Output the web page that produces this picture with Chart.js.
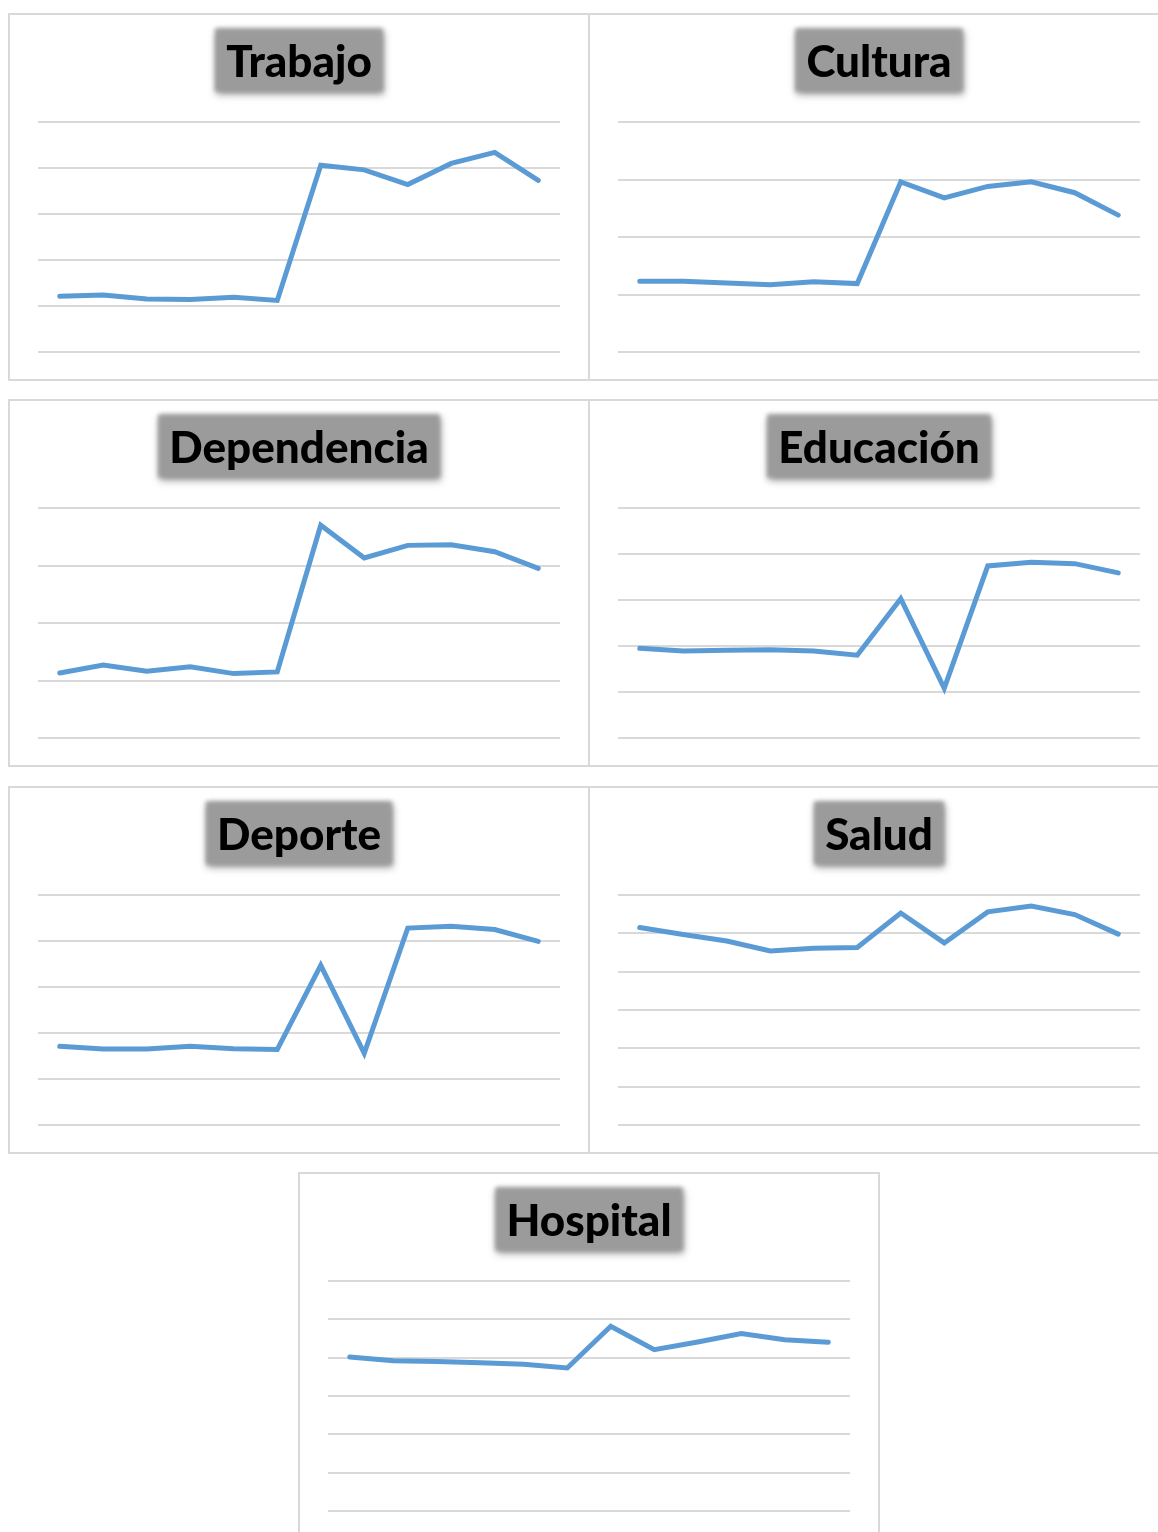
<!DOCTYPE html>
<html>
<head>
<meta charset="utf-8">
<script src="https://cdn.jsdelivr.net/npm/chart.js@4.4.0/dist/chart.umd.min.js"></script>
<style>
  html, body { margin: 0; padding: 0; background: #fff; }
  body { width: 1158px; height: 1532px; position: relative; overflow: hidden; }
  .panel {
    position: absolute;
    width: 582px;
    height: 368px;
    box-sizing: border-box;
    border: 2px solid #d9d9d9;
    background: #fff;
  }
  .panel canvas { display: block; }
</style>
</head>
<body>
<div class="panel" style="left:8px;top:13px"><canvas id="trabajo" width="578" height="364"></canvas></div>
<div class="panel" style="left:588px;top:13px"><canvas id="cultura" width="578" height="364"></canvas></div>
<div class="panel" style="left:8px;top:399px"><canvas id="dependencia" width="578" height="364"></canvas></div>
<div class="panel" style="left:588px;top:399px"><canvas id="educacion" width="578" height="364"></canvas></div>
<div class="panel" style="left:8px;top:786px"><canvas id="deporte" width="578" height="364"></canvas></div>
<div class="panel" style="left:588px;top:786px"><canvas id="salud" width="578" height="364"></canvas></div>
<div class="panel" style="left:298px;top:1172px"><canvas id="hospital" width="578" height="364"></canvas></div>

<script>
// twelve periods, axis labels are hidden
const periods = ['1', '2', '3', '4', '5', '6', '7', '8', '9', '10', '11', '12'];

const trabajo = [12.1, 12.4, 11.5, 11.4, 11.9, 11.2, 40.6, 39.6, 36.4, 41.0, 43.4, 37.3];
const cultura = [12.3, 12.3, 12.0, 11.7, 12.2, 11.9, 29.6, 26.8, 28.8, 29.6, 27.7, 23.8];
const dependencia = [11.3, 12.7, 11.6, 12.4, 11.2, 11.5, 37.0, 31.3, 33.5, 33.6, 32.4, 29.5];
const educacion = [19.5, 18.9, 19.1, 19.2, 18.9, 18.0, 30.3, 10.8, 37.4, 38.2, 37.9, 35.9];
const deporte = [17.1, 16.5, 16.5, 17.1, 16.6, 16.4, 34.7, 15.6, 42.8, 43.2, 42.5, 39.9];
const salud = [51.5, 49.7, 48.0, 45.4, 46.1, 46.3, 55.3, 47.5, 55.6, 57.1, 54.9, 49.8];
const hospital = [40.2, 39.2, 39.0, 38.7, 38.3, 37.3, 48.2, 42.1, 44.1, 46.3, 44.7, 44.0];

// gray soft-edged box behind each title
const titleBox = {
  id: 'titleBox',
  beforeDraw(chart) {
    const t = chart.titleBlock;
    if (!t) return;
    const opts = chart.options.plugins.title;
    const font = Chart.helpers.toFont(opts.font);
    const pad = Chart.helpers.toPadding(opts.padding);
    const ctx = chart.ctx;
    ctx.save();
    ctx.font = font.string;
    const w = ctx.measureText(opts.text).width;
    const cx = (t.left + t.right) / 2;
    const mid = t.top + pad.top + font.lineHeight / 2;
    ctx.filter = 'blur(2px)';
    ctx.shadowColor = 'rgba(0,0,0,0.4)';
    ctx.shadowBlur = 6;
    ctx.shadowOffsetX = 1;
    ctx.shadowOffsetY = 3;
    ctx.fillStyle = '#9b9b9b';
    ctx.fillRect(cx - w / 2 - 11, mid - 34, w + 22, 63);
    ctx.restore();
  }
};

function makeChart(id, title, values, yMax) {
  return new Chart(document.getElementById(id), {
    type: 'line',
    data: {
      labels: periods,
      datasets: [{
        data: values,
        borderColor: '#5b9bd5',
        borderWidth: 5,
        pointRadius: 0,
        tension: 0,
        borderCapStyle: 'round',
        borderJoinStyle: 'miter'
      }]
    },
    options: {
      responsive: false,
      animation: false,
      layout: { padding: { left: 28, right: 28, top: 0, bottom: 27 } },
      plugins: {
        legend: { display: false },
        tooltip: { enabled: false },
        title: {
          display: true,
          text: title,
          color: '#000',
          font: { family: 'Lato', weight: 900, size: 44, lineHeight: 1.2 },
          padding: { top: 21, bottom: 33.2 }
        }
      },
      scales: {
        x: { display: false, offset: true },
        y: {
          min: 0,
          max: yMax,
          ticks: { display: false, stepSize: 10 },
          border: { display: false },
          grid: { color: '#d9d9d9', lineWidth: 2, drawTicks: false }
        }
      }
    },
    plugins: [titleBox]
  });
}

makeChart('trabajo', 'Trabajo', trabajo, 50);
makeChart('cultura', 'Cultura', cultura, 40);
makeChart('dependencia', 'Dependencia', dependencia, 40);
makeChart('educacion', 'Educación', educacion, 50);
makeChart('deporte', 'Deporte', deporte, 50);
makeChart('salud', 'Salud', salud, 60);
makeChart('hospital', 'Hospital', hospital, 60);
</script>
</body>
</html>
